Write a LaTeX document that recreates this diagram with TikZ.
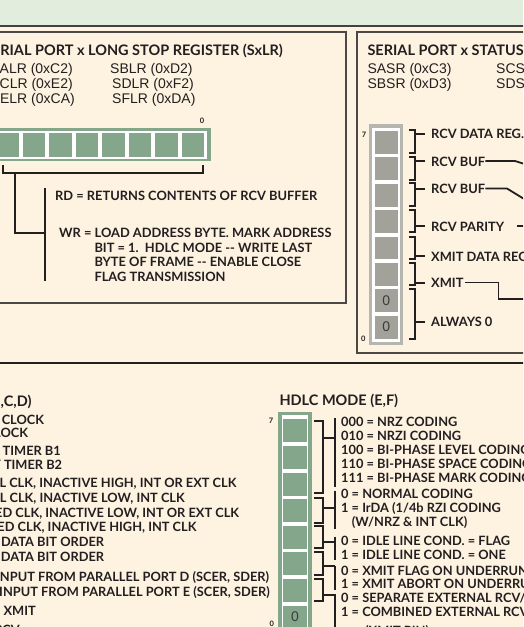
\documentclass[tikz,border=0pt]{standalone}
\usepackage{fontspec}
\setmainfont{Liberation Sans}
\newfontfamily\labfont{Lato}
\definecolor{topband}{RGB}{227,237,221}
\definecolor{cream}{RGB}{254,242,225}
\definecolor{cellgreen}{RGB}{132,166,138}
\definecolor{cellgray}{RGB}{162,162,154}
\definecolor{framegray}{RGB}{182,182,176}
\definecolor{ink}{RGB}{35,31,32}
\definecolor{boxgray}{RGB}{75,72,70}
\definecolor{zerogray}{RGB}{60,60,58}
\tikzset{
  reg/.style={font=\fontsize{14}{16}\selectfont, text=ink, inner sep=0pt},
  ttl/.style={font=\labfont\bfseries\fontsize{14.5}{16}\selectfont, text=ink, inner sep=0pt},
  lab/.style={font=\labfont\bfseries\fontsize{12.85}{15}\selectfont, text=ink, inner sep=0pt},
  sml/.style={font=\labfont\bfseries\fontsize{12.8}{14}\selectfont, text=ink, inner sep=0pt},
  bitno/.style={font=\labfont\bfseries\fontsize{7.5}{8}\selectfont, text=ink, inner sep=0pt},
  gcell/.style={fill=cellgreen, minimum width=22.5pt, minimum height=24pt, inner sep=0pt, draw=none},
  scell/.style={fill=cellgray, minimum width=22.7pt, minimum height=22.7pt, inner sep=0pt, draw=none,
     font=\fontsize{14}{16}\selectfont, text=zerogray},
  hcell/.style={fill=cellgreen, minimum width=23.4pt, minimum height=23pt, inner sep=0pt, draw=none,
     font=\fontsize{14}{16}\selectfont, text=zerogray},
  boxline/.style={draw=boxgray, line width=1.2pt},
  brk/.style={draw=ink, line width=2pt},
  conn/.style={draw=ink, line width=1.8pt},
}
\begin{document}
\begin{tikzpicture}[x=1pt,y=-1pt]
\useasboundingbox (0,0) rectangle (523,627);
\clip (0,0) rectangle (523,627);
\fill[cream] (0,0) rectangle (523,627);
\fill[topband] (0,0) rectangle (523,25);
\draw[ink!85, line width=2pt] (-2,25.5) -- (525,25.5);
\draw[boxline] (-5,32) rectangle (346,303);
\draw[boxline] (357,32) rectangle (530,353);
\draw[ink, line width=1.2pt] (-2,363) -- (525,363);

% ---------- SxLR ----------
\node[ttl, anchor=base east] (lrt) at (283,55) {SERIAL PORT x LONG STOP REGISTER (SxLR)};
\node[reg, anchor=base east] (lra) at (73,73.3) {SALR (0xC2)};
\node[reg, anchor=base east] (lrc) at (73,88) {SCLR (0xE2)};
\node[reg, anchor=base east] (lre) at (75,103) {SELR (0xCA)};
\node[reg, anchor=base west] (lrb) at (110,73.3) {SBLR (0xD2)};
\node[reg, anchor=base west] (lrd) at (112,88) {SDLR (0xF2)};
\node[reg, anchor=base west] (lrf) at (112,103) {SFLR (0xDA)};
\fill[cellgreen] (-10,128.3) rectangle (211,161);
\fill[white] (-8,130.5) rectangle (207,158.8);
\foreach \k in {0,...,7} \node[gcell] (lr\k) at ({193-26.5*\k},144.7) {};
\node[bitno] (lrz) at (202,120.7) {0};
\coordinate (lrbl) at (2.7,165);
\coordinate (lrbr) at (202.7,165);
\coordinate (lrstem) at (15,173.3);
\draw[brk] (lrbl) -- (2.7,173.3) -- (202.7,173.3) -- (lrbr);
\draw[brk] (lrstem) -- (15,233.3) -- (45,233.3);
\draw[brk] (45,188.3) -- (45,281);
\node[lab, anchor=base west] (rd) at (55,200) {RD = RETURNS CONTENTS OF RCV BUFFER};
\node[lab, anchor=base west] (wr1) at (59,237.7) {WR = LOAD ADDRESS BYTE. MARK ADDRESS};
\node[lab, anchor=base west] (wr2) at (94.3,252.7) {BIT = 1.\ \ HDLC MODE -- WRITE LAST};
\node[lab, anchor=base west] (wr3) at (94.3,266.7) {BYTE OF FRAME -- ENABLE CLOSE};
\node[lab, anchor=base west] (wr4) at (94.3,281) {FLAG TRANSMISSION};

% ---------- SxSR ----------
\node[ttl, anchor=base west] (srt) at (367.3,55) {SERIAL PORT x STATUS REGISTER (SxSR)};
\node[reg, anchor=base west] (sra) at (367.3,73.3) {SASR (0xC3)};
\node[reg, anchor=base west] (srb) at (367.3,88.3) {SBSR (0xD3)};
\node[reg, anchor=base west] (src) at (496,73.3) {SCSR (0xE3)};
\node[reg, anchor=base west] (srd) at (496,88.3) {SDSR (0xF3)};
\fill[framegray] (369.3,124.3) rectangle (402.7,345);
\fill[white] (371.8,127.5) rectangle (400.2,342);
\foreach \j in {0,...,5}{
  \pgfmathtruncatemacro\b{7-\j}
  \node[scell] (sr\b) at (386.35,{142.35+26.4*\j}) {};
}
\node[scell] (sr1) at (386.35,300.75) {0};
\node[scell] (sr0) at (386.35,327.15) {0};
\node[bitno] (sr7n) at (364,134.3) {7};
\node[bitno] (sr0n) at (363.3,338.3) {0};
% brackets
\foreach \t/\bt/\ty in {130/153.2/133.5, 156.5/179.6/161, 183/206/188.5, 210/232.4/226.3, 236.6/258.8/256, 263/285.2/282.7, 289.4/338.5/321.5}{
  \draw[brk] (409,\t) -- (415,\t) -- (415,\bt) -- (409,\bt);
  \draw[brk] (415,\ty) -- (425,\ty);
}
\node[lab, anchor=base west] (s7) at (431,138.3) {RCV DATA REG.};
\node[lab, anchor=base west] (s6) at (431,166) {RCV BUF};
\node[lab, anchor=base west] (s5) at (431,193.6) {RCV BUF};
\node[lab, anchor=base west] (s4) at (431,231.2) {RCV PARITY};
\node[lab, anchor=base west] (s3) at (431,261) {XMIT DATA REG.};
\node[lab, anchor=base west] (s2) at (431,287.7) {XMIT};
\node[lab, anchor=base west] (s10) at (431,326.6) {ALWAYS 0};
\coordinate (c6) at (515,161);
\coordinate (c5) at (507,188.5);
\draw[conn] (s6.east |- c6) -- (c6) -- ++(30,9.4);
\draw[conn] (s5.east |- c5) -- (c5) -- ++(30,18.4);
\draw[conn] ([xshift=13pt]s4.east |- 0,226.3) -- ++(20,0);
\draw[conn] ([xshift=1.5pt]s2.east |- 0,282.5) -| (498.5,299.3) -- (530,299.3);

% ---------- lower left ----------
\node[ttl, anchor=base east] (at) at (31.7,406) {ASYNC MODE (A,B,C,D)};
\node[sml, anchor=base east] (a1) at (44.3,424) {0 = INTERNAL CLOCK};
\node[sml, anchor=base east] (a2) at (28.3,437.7) {1 = EXTERNAL CLOCK};
\node[sml, anchor=base east] (a3) at (61,455) {CLOCK BY TIMER B1};
\node[sml, anchor=base east] (a4) at (62.3,469.3) {CLOCK BY TIMER B2};
\node[sml, anchor=base east] (a5) at (236.7,487.7) {00 = NORMAL CLK, INACTIVE HIGH, INT OR EXT CLK};
\node[sml, anchor=base east] (a6) at (185,502.7) {01 = NORMAL CLK, INACTIVE LOW, INT CLK};
\node[sml, anchor=base east] (a7) at (239.3,517.3) {10 = INVERTED CLK, INACTIVE LOW, INT OR EXT CLK};
\node[sml, anchor=base east] (a8) at (196.7,531.7) {11 = INVERTED CLK, INACTIVE HIGH, INT CLK};
\node[sml, anchor=base east] (a9) at (104.3,546.7) {0 = LSB FIRST\hspace{10pt} DATA BIT ORDER};
\node[sml, anchor=base east] (a10) at (104.3,561.7) {1 = MSB FIRST\hspace{10pt} DATA BIT ORDER};
\node[sml, anchor=base east] (a11) at (269.3,581.7) {0 = INPUT FROM PARALLEL PORT D (SCER, SDER)};
\node[sml, anchor=base east] (a12) at (270,596) {1 = INPUT FROM PARALLEL PORT E (SCER, SDER)};
\node[sml, anchor=base east] (a13) at (36,615) {0 = XMIT};
\node[sml, anchor=base east] (a14) at (20,634.5) {1 = RCV};

% ---------- HDLC ----------
\node[ttl, anchor=base west] (ht) at (279.3,405) {HDLC MODE (E,F)};
\fill[cellgreen] (278.3,411.7) rectangle (311.7,640);
\fill[white] (281.6,415) rectangle (308.4,640);
\foreach \j in {0,...,6}{
  \pgfmathtruncatemacro\b{7-\j}
  \node[hcell] (h\b) at (295,{430.8+26.6*\j}) {};
}
\node[hcell] (h0) at (295,617) {0};
\node[bitno] (h7n) at (271,421) {7};
\node[bitno] (h0n) at (271.7,623.3) {0};
\foreach \t/\bt/\ty/\ba/\bb in {421/493.3/437.7/418/486.5, 498.3/522.5/508.3/490.5/528.5, 526/548/541.7/536.5/560, 552/575/566/566/590, 578.5/601/595/594/640}{
  \draw[brk] (314,\t) -- (323.3,\t) -- (323.3,\bt) -- (314,\bt);
  \draw[brk] (323.3,\ty) -- (335,\ty);
  \draw[brk] (335,\ba) -- (335,\bb);
}
\node[sml, anchor=base west] (hl1) at (341,426) {000 = NRZ CODING};
\node[sml, anchor=base west] (hl2) at (341,440) {010 = NRZI CODING};
\node[sml, anchor=base west] (hl3) at (341,454.3) {100 = BI-PHASE LEVEL CODING};
\node[sml, anchor=base west] (hl4) at (341,468.3) {110 = BI-PHASE SPACE CODING};
\node[sml, anchor=base west] (hl5) at (341,482.3) {111 = BI-PHASE MARK CODING};
\node[sml, anchor=base west] (hl6) at (341,498.3) {0 = NORMAL CODING};
\node[sml, anchor=base west] (hl7) at (341,512.3) {1 = IrDA (1/4b RZI CODING};
\node[sml, anchor=base west] (hl8) at (351.7,526.7) {(W/NRZ \& INT CLK)};
\node[sml, anchor=base west] (hl9) at (341,545) {0 = IDLE LINE COND. = FLAG};
\node[sml, anchor=base west] (hl10) at (341,559) {1 = IDLE LINE COND. = ONE};
\node[sml, anchor=base west] (hl11) at (341,575) {0 = XMIT FLAG ON UNDERRUN};
\node[sml, anchor=base west] (hl12) at (341,588.3) {1 = XMIT ABORT ON UNDERRUN};
\node[sml, anchor=base west] (hl13) at (341,602.7) {0 = SEPARATE EXTERNAL RCV/XMIT CLK};
\node[sml, anchor=base west] (hl14) at (341,616.7) {1 = COMBINED EXTERNAL RCV/XMIT CLK};
\node[sml, anchor=base west] (hl15) at (365,635.5) {(XMIT PIN)};
\end{tikzpicture}
\end{document}
